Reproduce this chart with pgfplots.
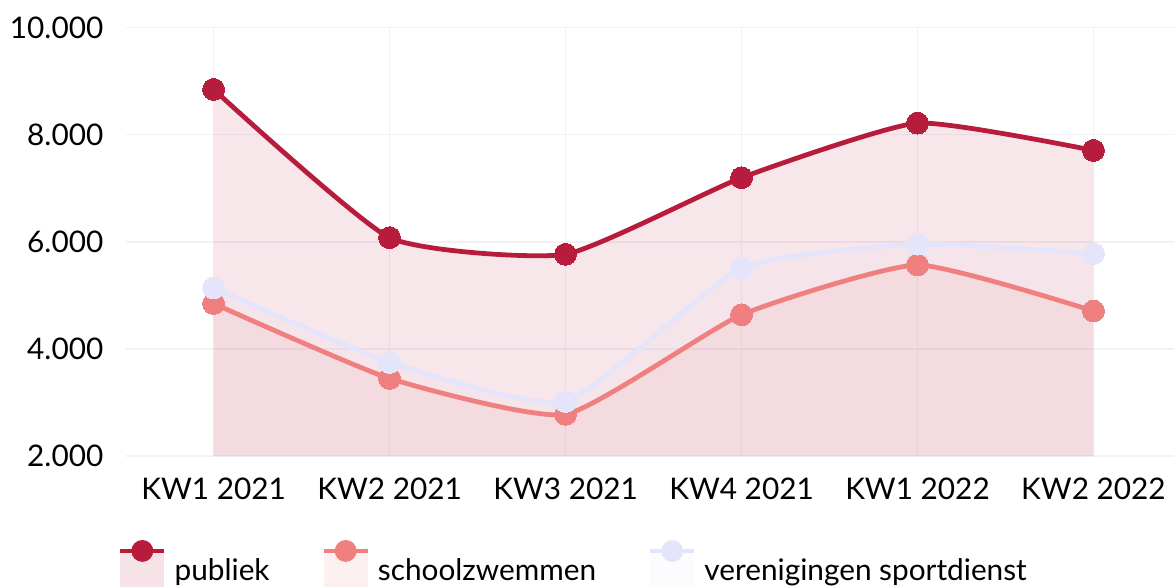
\documentclass[border=0pt]{standalone}
\usepackage{pgfplots}
\pgfplotsset{compat=1.18}
\usepackage{fontspec}
\setmainfont{Lato}
\definecolor{pub}{RGB}{184,28,60}
\definecolor{school}{RGB}{240,128,128}
\definecolor{ver}{RGB}{228,228,250}
\definecolor{gridc}{RGB}{242,242,246}

\pgfplotstableread{
x publiek school ver
0 8850 4850 5140
1 6080 3450 3750
2 5770 2780 3020
3 7200 4640 5510
4 8220 5570 5960
5 7710 4710 5780
}\data

\newcommand{\legimg}[1]{%
  \path[draw=none, fill=#1, fill opacity=0.12] (0bp,-8bp) rectangle (22bp,11bp);
  \path[draw=#1, line width=2.4bp] (0bp,10bp) -- (22bp,10bp);
  \path[draw=none, fill=#1] (11bp,10bp) circle (5.5bp);
}

\begin{document}
\begin{tikzpicture}
\begin{axis}[
  scale only axis,
  width=526.5bp, height=215bp,
  xmin=-0.5, xmax=5.46,
  ymin=2000, ymax=10000,
  ytick={2000,4000,6000,8000,10000},
  scaled y ticks=false,
  xtick={0,1,2,3,4,5},
  xticklabels={KW1 2021,KW2 2021,KW3 2021,KW4 2021,KW1 2022,KW2 2022},
  /pgf/number format/.cd, 1000 sep={.}, assume math mode=true, /pgfplots/.cd,
  yticklabel style={font=\fontsize{15}{18}\selectfont, inner sep=0pt, xshift=-11bp},
  xticklabel style={font=\fontsize{15}{18}\selectfont, inner sep=0pt, yshift=-11bp},
  axis line style={draw=none},
  major tick style={draw=none},
  grid=major,
  grid style={gridc, line width=0.6bp},
  clip=false,
  legend columns=3,
  legend style={draw=none, fill=none, at={(0,-0.195)}, anchor=north west,
    inner sep=0pt, font=\fontsize{15}{18}\selectfont, xshift=-4bp,
    nodes={inner sep=0pt},
    /tikz/every odd column/.append style={column sep=4bp},
    /tikz/every even column/.append style={column sep=26bp}},
  legend cell align=left,
]
% fills
\addplot[draw=none, fill=pub, fill opacity=0.11, smooth, tension=0.3, forget plot] table[x=x,y=publiek]{\data} \closedcycle;
\addplot[draw=none, fill=school, fill opacity=0.12, smooth, tension=0.3, forget plot] table[x=x,y=school]{\data} \closedcycle;
\addplot[draw=none, fill=ver, fill opacity=0.12, smooth, tension=0.3, forget plot] table[x=x,y=ver]{\data} \closedcycle;
% lines
\addplot[school, line width=2.4bp, smooth, tension=0.3, mark=*, mark size=5.5bp, mark options={draw=school, fill=school, line width=0pt}, forget plot] table[x=x,y=school]{\data};
\addplot[ver, line width=2.4bp, smooth, tension=0.3, mark=*, mark size=5.5bp, mark options={draw=ver, fill=ver, line width=0pt}, forget plot] table[x=x,y=ver]{\data};
\addplot[pub, line width=2.4bp, smooth, tension=0.3, mark=*, mark size=5.5bp, mark options={draw=pub, fill=pub, line width=0pt}, forget plot] table[x=x,y=publiek]{\data};
% legend
\addlegendimage{legend image code/.code={\legimg{pub}}}
\addlegendentry{publiek}
\addlegendimage{legend image code/.code={\legimg{school}}}
\addlegendentry{schoolzwemmen}
\addlegendimage{legend image code/.code={\legimg{ver}}}
\addlegendentry{verenigingen sportdienst}
\end{axis}
\path (current bounding box.south west) ++(-5bp,0) (current bounding box.north east) ++(0,8.5bp);
\end{tikzpicture}
\end{document}
